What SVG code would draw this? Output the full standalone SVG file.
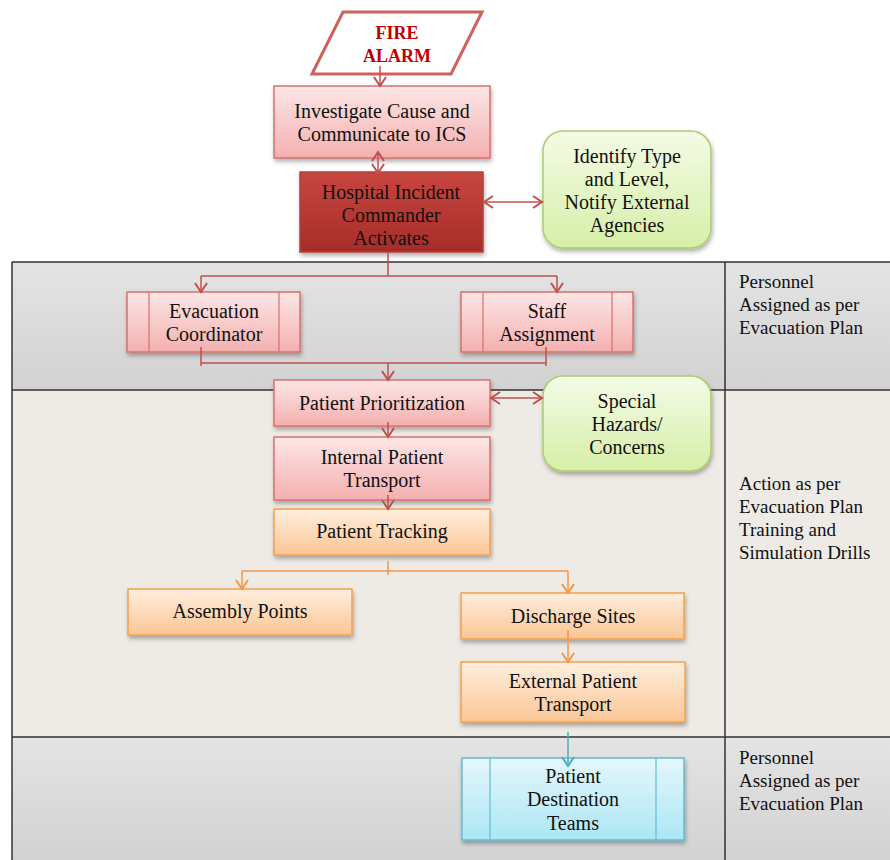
<svg xmlns="http://www.w3.org/2000/svg" width="890" height="860" viewBox="0 0 890 860">
<defs>
<linearGradient id="gGray" x1="0" y1="0" x2="0" y2="1"><stop offset="0" stop-color="#e4e4e4"/><stop offset="1" stop-color="#d2d2d2"/></linearGradient>
<linearGradient id="gPink" x1="0" y1="0" x2="0" y2="1"><stop offset="0" stop-color="#fde6e6"/><stop offset="1" stop-color="#f4b0b0"/></linearGradient>
<linearGradient id="gRed" x1="0" y1="0" x2="0" y2="1"><stop offset="0" stop-color="#c8463f"/><stop offset="1" stop-color="#a62c28"/></linearGradient>
<linearGradient id="gGreen" x1="0" y1="0" x2="0" y2="1"><stop offset="0" stop-color="#f4fbe6"/><stop offset="1" stop-color="#d6efa8"/></linearGradient>
<linearGradient id="gOrange" x1="0" y1="0" x2="0" y2="1"><stop offset="0" stop-color="#feeede"/><stop offset="1" stop-color="#fbc696"/></linearGradient>
<linearGradient id="gBlue" x1="0" y1="0" x2="0" y2="1"><stop offset="0" stop-color="#e4f7fc"/><stop offset="1" stop-color="#ace6f5"/></linearGradient>
<filter id="sh" x="-10%" y="-10%" width="125%" height="135%"><feDropShadow dx="1" dy="3" stdDeviation="2" flood-color="#000" flood-opacity="0.3"/></filter>
<marker id="aR" markerWidth="14" markerHeight="14" refX="11" refY="7" orient="auto-start-reverse" markerUnits="userSpaceOnUse"><path d="M2,1 L11,7 L2,13" fill="none" stroke="#c0504d" stroke-width="2"/></marker>
<marker id="aO" markerWidth="14" markerHeight="14" refX="11" refY="7" orient="auto" markerUnits="userSpaceOnUse"><path d="M2,1 L11,7 L2,13" fill="none" stroke="#f79646" stroke-width="2"/></marker>
<marker id="aB" markerWidth="14" markerHeight="14" refX="11" refY="7" orient="auto" markerUnits="userSpaceOnUse"><path d="M2,1 L11,7 L2,13" fill="none" stroke="#4bacc6" stroke-width="2"/></marker>
</defs>
<style>
text{font-family:"Liberation Serif","DejaVu Serif",serif;font-size:20px;fill:#111;text-anchor:middle}
.lane{font-size:19px;text-anchor:start}
.pink{fill:url(#gPink);stroke:#d9706c;stroke-width:1.5}
.red{fill:url(#gRed);stroke:#b0403c;stroke-width:1.5}
.green{fill:url(#gGreen);stroke:#a6cf6e;stroke-width:1.5}
.orange{fill:url(#gOrange);stroke:#f5a04e;stroke-width:1.5}
.blue{fill:url(#gBlue);stroke:#63bcd4;stroke-width:1.5}
.cr{fill:none;stroke:#c0504d;stroke-width:1.5}
.co{fill:none;stroke:#f79646;stroke-width:1.5}
.cb{fill:none;stroke:#4bacc6;stroke-width:1.5}
.div{stroke:#333;stroke-width:1.5;fill:none}
</style>
<rect width="890" height="860" fill="#ffffff"/>
<g id="lanes">
<rect x="12" y="262" width="878" height="128" fill="url(#gGray)"/>
<rect x="12" y="390" width="878" height="347" fill="#eeebe6"/>
<rect x="12" y="737" width="878" height="123" fill="url(#gGray)"/>
<path class="div" d="M12,262 H890 M12,390 H890 M12,737 H890 M12,262 V860 M725,262 V860"/>
<text class="lane" x="739" y="288">Personnel</text>
<text class="lane" x="739" y="311">Assigned as per</text>
<text class="lane" x="739" y="334">Evacuation Plan</text>
<text class="lane" x="739" y="490">Action as per</text>
<text class="lane" x="739" y="513">Evacuation Plan</text>
<text class="lane" x="739" y="536">Training and</text>
<text class="lane" x="739" y="559">Simulation Drills</text>
<text class="lane" x="739" y="764">Personnel</text>
<text class="lane" x="739" y="787">Assigned as per</text>
<text class="lane" x="739" y="810">Evacuation Plan</text>
</g>
<g id="fire-alarm">
<polygon points="312,74 343,12 482,12 451,74" fill="#fff" stroke="#d0605c" stroke-width="3"/>
<text x="397" y="39" style="font-weight:bold;fill:#c00000;font-size:18px">FIRE</text>
<text x="397" y="62" style="font-weight:bold;fill:#c00000;font-size:18px">ALARM</text>
</g>
<g id="investigate">
<rect class="pink" x="274" y="86" width="216" height="72" filter="url(#sh)"/>
<text x="382" y="118">Investigate Cause and</text>
<text x="382" y="141">Communicate to ICS</text>
</g>
<g id="commander">
<rect class="red" x="300" y="172" width="183" height="80" filter="url(#sh)"/>
<text x="391" y="199">Hospital Incident</text>
<text x="391" y="222">Commander</text>
<text x="391" y="245">Activates</text>
</g>
<g id="identify">
<rect class="green" x="543" y="131" width="168" height="117" rx="20" filter="url(#sh)"/>
<text x="627" y="163">Identify Type</text>
<text x="627" y="186">and Level,</text>
<text x="627" y="209">Notify External</text>
<text x="627" y="232">Agencies</text>
</g>
<g id="evac-coordinator">
<rect class="pink" x="127" y="292" width="173" height="60" filter="url(#sh)"/>
<path d="M149,292 V352 M279,292 V352" stroke="#d9706c" stroke-width="1.2"/>
<text x="214" y="318">Evacuation</text>
<text x="214" y="341">Coordinator</text>
</g>
<g id="staff-assignment">
<rect class="pink" x="461" y="292" width="172" height="60" filter="url(#sh)"/>
<path d="M483,292 V352 M612,292 V352" stroke="#d9706c" stroke-width="1.2"/>
<text x="547" y="318">Staff</text>
<text x="547" y="341">Assignment</text>
</g>
<g id="prioritization">
<rect class="pink" x="274" y="380" width="216" height="46" filter="url(#sh)"/>
<text x="382" y="410">Patient Prioritization</text>
</g>
<g id="special-hazards">
<rect class="green" x="543" y="376" width="168" height="95" rx="20" filter="url(#sh)"/>
<text x="627" y="408">Special</text>
<text x="627" y="431">Hazards/</text>
<text x="627" y="454">Concerns</text>
</g>
<g id="internal-transport">
<rect class="pink" x="274" y="437" width="216" height="63" filter="url(#sh)"/>
<text x="382" y="464">Internal Patient</text>
<text x="382" y="487">Transport</text>
</g>
<g id="tracking">
<rect class="orange" x="274" y="509" width="216" height="46" filter="url(#sh)"/>
<text x="382" y="538">Patient Tracking</text>
</g>
<g id="assembly">
<rect class="orange" x="128" y="589" width="224" height="46" filter="url(#sh)"/>
<text x="240" y="618">Assembly Points</text>
</g>
<g id="discharge">
<rect class="orange" x="461" y="593" width="223" height="46" filter="url(#sh)"/>
<text x="573" y="623">Discharge Sites</text>
</g>
<g id="external-transport">
<rect class="orange" x="461" y="662" width="224" height="60" filter="url(#sh)"/>
<text x="573" y="688">External Patient</text>
<text x="573" y="711">Transport</text>
</g>
<g id="destination-teams">
<rect class="blue" x="462" y="758" width="222" height="82" filter="url(#sh)"/>
<path d="M490,758 V840 M656,758 V840" stroke="#63bcd4" stroke-width="1.2"/>
<text x="573" y="783">Patient</text>
<text x="573" y="806">Destination</text>
<text x="573" y="830">Teams</text>
</g>
<g id="connectors">
<path class="cr" d="M380,66 V86" marker-end="url(#aR)"/>
<path class="cr" d="M378,152 V173" marker-start="url(#aR)" marker-end="url(#aR)"/>
<path class="cr" d="M484,202 H542" marker-start="url(#aR)" marker-end="url(#aR)"/>
<path class="cr" d="M388,253 V276 M201,276 H557"/>
<path class="cr" d="M201,276 V292" marker-end="url(#aR)"/>
<path class="cr" d="M557,276 V292" marker-end="url(#aR)"/>
<path class="cr" d="M201,347 V366 M546,347 V366 M201,363 H546"/>
<path class="cr" d="M388,363 V380" marker-end="url(#aR)"/>
<path class="cr" d="M491,398 H542" marker-start="url(#aR)" marker-end="url(#aR)"/>
<path class="cr" d="M388,422 V437" marker-end="url(#aR)"/>
<path class="cr" d="M388,495 V509" marker-end="url(#aR)"/>
<path class="co" d="M388,561 V575 M242,571 H568"/>
<path class="co" d="M242,571 V589" marker-end="url(#aO)"/>
<path class="co" d="M568,571 V593" marker-end="url(#aO)"/>
<path class="co" d="M568,630 V662" marker-end="url(#aO)"/>
<path class="cb" d="M568,732 V766" marker-end="url(#aB)"/>
</g>
</svg>
